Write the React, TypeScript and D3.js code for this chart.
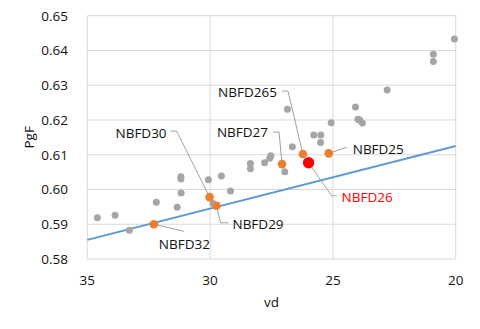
import React from "react";
import * as d3 from "d3";

const xTicks = [35, 30, 25, 20];
const yTicks = [0.58, 0.59, 0.6, 0.61, 0.62, 0.63, 0.64, 0.65];

const grayVd = [34.59, 33.87, 33.29, 32.19, 31.34, 31.18, 31.19, 31.19, 30.07, 29.88, 29.54, 29.17, 28.36, 28.36, 27.78, 27.57, 27.53, 26.96, 26.85, 26.65, 25.78, 25.49, 25.5, 25.07, 24.08, 23.98, 23.91, 23.8, 22.79, 20.91, 20.91, 20.05];
const grayPgF = [0.5919, 0.5926, 0.5883, 0.5963, 0.5949, 0.599, 0.6037, 0.603, 0.6028, 0.596, 0.6039, 0.5996, 0.6075, 0.606, 0.6077, 0.609, 0.6097, 0.6051, 0.6231, 0.6123, 0.6157, 0.6157, 0.6135, 0.6192, 0.6237, 0.6202, 0.62, 0.6191, 0.6286, 0.6389, 0.6368, 0.6433];

const orangeNames = ["NBFD32", "NBFD30", "NBFD29", "NBFD27", "NBFD265", "NBFD25"];
const orangeVd = [32.29, 30.02, 29.74, 27.07, 26.22, 25.17];
const orangePgF = [0.59, 0.5978, 0.5953, 0.6073, 0.6102, 0.6104];

const redNames = ["NBFD26"];
const redVd = [25.99];
const redPgF = [0.6077];

const lineVd = [35, 20];
const linePgF = [0.5855, 0.6125];

// label layout: offsets from the point (leader path and text anchor)
const labelLayout: Record<string, { path: [number, number][]; tx: number; ty: number; anchor: string }> = {
  NBFD265: { path: [[-15, -63], [-21, -63]], tx: -26, ty: -62, anchor: "end" },
  NBFD27: { path: [[-3, -32], [-9, -32]], tx: -14, ty: -32, anchor: "end" },
  NBFD30: { path: [[-33, -66], [-39, -66]], tx: -43, ty: -64.5, anchor: "end" },
  NBFD25: { path: [[18, -6]], tx: 24, ty: -4.5, anchor: "start" },
  NBFD26: { path: [[23, 33], [28, 33]], tx: 33, ty: 34.5, anchor: "start" },
  NBFD29: { path: [[4, 17], [12, 17]], tx: 16, ty: 18, anchor: "start" },
  NBFD32: { path: [[30, 7]], tx: 5, ty: 20, anchor: "start" },
};

const W = 480;
const H = 329;
const left = 87.3;
const right = 455.7;
const top = 15.7;
const bottom = 259;

const font = "'Open Sans', 'Liberation Sans', sans-serif";
const textColor = "#111";

export default function App() {
  const x = d3.scaleLinear().domain([35, 20]).range([left, right]);
  const y = d3.scaleLinear().domain([0.58, 0.65]).range([bottom, top]);
  const gridColor = "#d9d9d9";
  const line = d3.line<number>().x((_, i) => x(lineVd[i])).y((v) => y(v));

  const labeled = [
    ...orangeNames.map((n, i) => ({ n, px: x(orangeVd[i]), py: y(orangePgF[i]), color: textColor })),
    ...redNames.map((n, i) => ({ n, px: x(redVd[i]), py: y(redPgF[i]), color: "#ff0000" })),
  ];

  return (
    <svg width={W} height={H} style={{ position: "absolute", left: 0, top: 0, background: "#fff" }} fontFamily={font}>
      {yTicks.map((t) => (
        <line key={"gy" + t} x1={left} x2={right} y1={y(t)} y2={y(t)} stroke={gridColor} strokeWidth={1} />
      ))}
      {xTicks.map((t) => (
        <line key={"gx" + t} x1={x(t)} x2={x(t)} y1={top} y2={bottom} stroke={gridColor} strokeWidth={1} />
      ))}
      {yTicks.map((t) => (
        <text key={"ty" + t} x={68} y={y(t)} textAnchor="end" dominantBaseline="central" fontSize={13.5} fill={textColor}>
          {t.toFixed(2)}
        </text>
      ))}
      {xTicks.map((t) => (
        <text key={"tx" + t} x={x(t)} y={280} textAnchor="middle" dominantBaseline="central" fontSize={13.5} fill={textColor}>
          {t}
        </text>
      ))}
      <text x={(left + right) / 2} y={302} textAnchor="middle" dominantBaseline="central" fontSize={13.5} fill={textColor}>
        vd
      </text>
      <text
        transform={`translate(29,${(top + bottom) / 2}) rotate(-90)`}
        textAnchor="middle"
        dominantBaseline="central"
        fontSize={13.5}
        fill={textColor}
      >
        PgF
      </text>

      <path d={line(linePgF) || ""} stroke="#5b9bd5" strokeWidth={2} fill="none" />

      {labeled.map((l) => {
        const lay = labelLayout[l.n];
        const pts = [[l.px, l.py], ...lay.path.map(([dx, dy]) => [l.px + dx, l.py + dy])];
        return (
          <polyline
            key={"ld" + l.n}
            points={pts.map((p) => p.join(",")).join(" ")}
            fill="none"
            stroke="#a0a0a0"
            strokeWidth={1}
          />
        );
      })}

      {grayVd.map((v, i) => (
        <circle key={"g" + i} cx={x(v)} cy={y(grayPgF[i])} r={3.5} fill="#a5a5a5" />
      ))}
      {orangeVd.map((v, i) => (
        <circle key={"o" + i} cx={x(v)} cy={y(orangePgF[i])} r={4.3} fill="#ed7d31" />
      ))}
      {redVd.map((v, i) => (
        <circle key={"r" + i} cx={x(v)} cy={y(redPgF[i])} r={5.7} fill="#ff0000" />
      ))}

      {labeled.map((l) => {
        const lay = labelLayout[l.n];
        return (
          <text
            key={"lt" + l.n}
            x={l.px + lay.tx}
            y={l.py + lay.ty}
            textAnchor={lay.anchor as any}
            dominantBaseline="central"
            fontSize={13.5}
            fill={l.color}
          >
            {l.n}
          </text>
        );
      })}
    </svg>
  );
}
